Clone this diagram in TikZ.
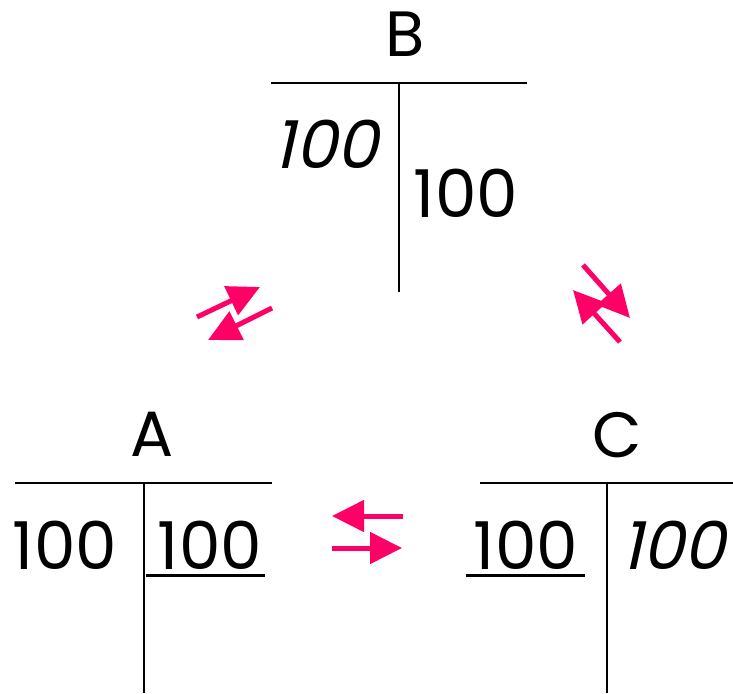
\documentclass[tikz,border=0pt]{standalone}
\usepackage{fontspec}
\setmainfont{Poppins}
\newfontfamily\slfont[FakeSlant=0.22]{Poppins}
\usetikzlibrary{arrows.meta}
\definecolor{flow}{HTML}{FF0066}
\tikzset{
  acct/.style={font=\fontsize{66}{66}\selectfont, inner sep=0pt, anchor=center},
  title/.style={font=\fontsize{64}{64}\selectfont, inner sep=0pt, anchor=center},
  tline/.style={line width=2pt, black},
  uline/.style={line width=3pt, black},
  flowarrow/.style={line width=5pt, flow, -{Triangle[length=32pt,width=31pt]}, shorten >=0pt},
}
\begin{document}
\begin{tikzpicture}[x=1pt,y=-1pt]
\useasboundingbox (0,0) rectangle (733,693);
% Account B
\node[title] (B) at (405,34) {B};
\coordinate (BL) at (271,83); \coordinate (BR) at (527,83);
\coordinate (BT) at (399,83); \coordinate (BB) at (399,292);
\draw[tline] (BL) -- (BR);
\draw[tline] (BT) -- (BB);
\node[acct] (Bd) at (326,144) {\slfont 100};
\node[acct] (Bc) at (466,193) {100};
% Account A
\node[title] (A) at (152,434) {A};
\coordinate (AL) at (15,483); \coordinate (AR) at (272,483);
\coordinate (AT) at (144,483); \coordinate (AB) at (144,693);
\draw[tline] (AL) -- (AR);
\draw[tline] (AT) -- (AB);
\node[acct] (Ad) at (65,545) {100};
\node[acct] (Ac) at (210,545) {100};
\coordinate (AuL) at (146,575); \coordinate (AuR) at (265,575);
\draw[uline] (AuL) -- (AuR);
% Account C
\node[title] (C) at (617,435) {C};
\coordinate (CL) at (480,483); \coordinate (CR) at (733,483);
\coordinate (CT) at (607,483); \coordinate (CB) at (607,693);
\draw[tline] (CL) -- (CR);
\draw[tline] (CT) -- (CB);
\node[acct] (Cd) at (526,545) {100};
\node[acct] (Cc) at (673,545) {\slfont 100};
\coordinate (CuL) at (466,575); \coordinate (CuR) at (585,575);
\draw[uline] (CuL) -- (CuR);
% Flow arrows A <-> B
\coordinate (ab1s) at (197,317); \coordinate (ab1e) at (260,287);
\coordinate (ab2s) at (272,308); \coordinate (ab2e) at (208,340);
\draw[flowarrow] (ab1s) -- (ab1e);
\draw[flowarrow] (ab2s) -- (ab2e);
% Flow arrows B <-> C
\coordinate (bc1s) at (583,265); \coordinate (bc1e) at (630,318);
\coordinate (bc2s) at (620,342); \coordinate (bc2e) at (573,290);
\draw[flowarrow] (bc1s) -- (bc1e);
\draw[flowarrow] (bc2s) -- (bc2e);
% Flow arrows A <-> C
\coordinate (ac1s) at (403,516); \coordinate (ac1e) at (332,516);
\coordinate (ac2s) at (332,548); \coordinate (ac2e) at (402,548);
\draw[flowarrow] (ac1s) -- (ac1e);
\draw[flowarrow] (ac2s) -- (ac2e);
\end{tikzpicture}
\end{document}
